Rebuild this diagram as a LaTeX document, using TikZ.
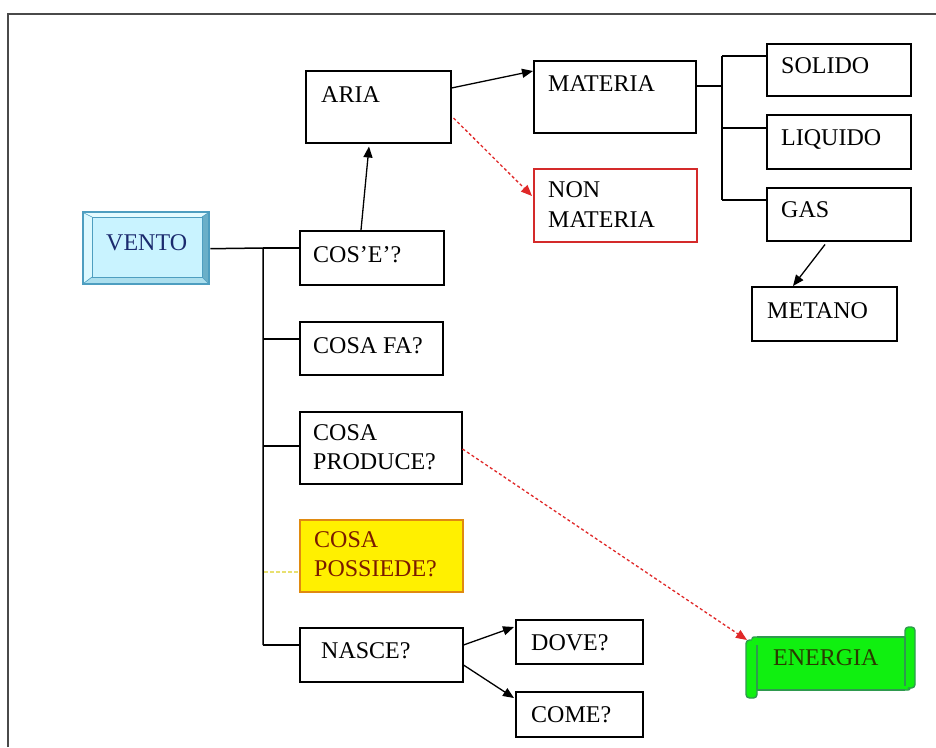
\documentclass[tikz,border=0pt]{standalone}
\usepackage{fontspec}
\setmainfont{Liberation Serif}
\usetikzlibrary{arrows.meta,calc}
\definecolor{redarr}{HTML}{E02828}
\definecolor{redbox}{HTML}{D42A2A}
\definecolor{ventofill}{HTML}{C9F3FF}
\definecolor{ventoedge}{HTML}{4E9EC0}
\definecolor{ventodark}{HTML}{6AAFC8}
\definecolor{ventolight}{HTML}{E4FBFF}
\definecolor{ventotext}{HTML}{1B2A6E}
\definecolor{yelfill}{HTML}{FFF000}
\definecolor{yeledge}{HTML}{E08A10}
\definecolor{yeltext}{HTML}{7A1A00}
\definecolor{yelline}{HTML}{E8E070}
\definecolor{grnfill}{HTML}{10F010}
\definecolor{grnedge}{HTML}{2E9A4E}
\definecolor{grntext}{HTML}{2A3A00}
\definecolor{frame}{HTML}{4A4A4A}
\begin{document}
\begin{tikzpicture}[x=1pt,y=-1pt,
  box/.style n args={2}{draw=black,line width=1.5pt,rectangle,inner sep=0pt,
    anchor=north west,minimum width=#1,minimum height=#2},
  txt/.style={anchor=base west,inner sep=0pt,font=\fontsize{24}{29}\selectfont},
  link/.style={draw=black,line width=1.5pt},
  arr/.style={draw=black,line width=1.3pt,-{Triangle[length=11pt,width=9pt]}},
  redarr/.style={draw=redarr,line width=1.3pt,dash pattern=on 3pt off 2.5pt,
    -{Triangle[length=11pt,width=9pt]}}]
\useasboundingbox (0,0) rectangle (936,747);
\fill[white] (0,0) rectangle (936,747);
% outer frame
\draw[frame,line width=2.2pt] (8,747) -- (8,14) -- (936,14);

% VENTO bevel box
\node[draw=ventoedge,fill=ventofill,line width=1.4pt,rectangle,inner sep=0pt,
  anchor=north west,minimum width=126,minimum height=72] (vento) at (83,212) {};
\fill[ventolight] (84,213) -- (208,213) -- (202,217) -- (92,217) -- cycle;
\fill[ventolight!70!ventofill] (84,213) -- (92,217) -- (92,277) -- (84,283) -- cycle;
\fill[ventodark] (208,213) -- (208,283) -- (202,277) -- (202,217) -- cycle;
\fill[ventofill!70!ventodark] (84,283) -- (92,277) -- (202,277) -- (208,283) -- cycle;
\draw[ventoedge,line width=0.8pt] (92,217) rectangle (202,277);
\draw[ventoedge,line width=0.6pt] (84,213) -- (92,217) (208,213) -- (202,217)
  (84,283) -- (92,277) (208,283) -- (202,277);
\draw[ventoedge,line width=1.4pt] (83,212) rectangle (209,284);
\node[txt,text=ventotext] (vento-t) at (106,250) {VENTO};

% left column boxes
\node[box={144}{54}] (cose) at (299,230) {};
\node[txt] (cose-t) at (313,262) {COS'E'?};
\node[box={143}{53}] (cosafa) at (299,321) {};
\node[txt] (cosafa-t) at (313,353) {COSA FA?};
\node[box={162}{72}] (produce) at (299,411) {};
\node[txt] (produce-t1) at (313,440) {COSA};
\node[txt] (produce-t2) at (313,469) {PRODUCE?};
\node[box={163}{72},draw=yeledge,fill=yelfill] (possiede) at (299,519) {};
\node[txt,text=yeltext] (possiede-t1) at (314,547) {COSA};
\node[txt,text=yeltext] (possiede-t2) at (314,576) {POSSIEDE?};
\node[box={163}{54}] (nasce) at (299,627) {};
\node[txt] (nasce-t) at (321,658) {NASCE?};

% upper boxes
\node[box={145}{72}] (aria) at (305,70) {};
\node[txt] (aria-t) at (321,102) {ARIA};
\node[box={162}{72}] (materia) at (533,60) {};
\node[txt] (materia-t) at (548,91) {MATERIA};
\node[box={163}{73},draw=redbox] (nonmat) at (533,168) {};
\node[txt] (nonmat-t1) at (548,197) {NON};
\node[txt] (nonmat-t2) at (548,227) {MATERIA};

\node[box={144}{52}] (solido) at (766,43) {};
\node[txt] (solido-t) at (781,73) {SOLIDO};
\node[box={144}{54}] (liquido) at (766,114) {};
\node[txt] (liquido-t) at (781,145) {LIQUIDO};
\node[box={144}{53}] (gas) at (766,187) {};
\node[txt] (gas-t) at (781,217) {GAS};
\node[box={145}{54}] (metano) at (751,286) {};
\node[txt] (metano-t) at (767,318) {METANO};

% lower right boxes
\node[box={127}{44}] (dove) at (515,619) {};
\node[txt] (dove-t) at (531,650) {DOVE?};
\node[box={127}{45}] (come) at (515,691) {};
\node[txt] (come-t) at (531,722) {COME?};

% ENERGIA scroll
\node[rectangle,inner sep=0pt,anchor=north west,minimum width=160,minimum height=53] (energia) at (751,637) {};
\filldraw[fill=grnfill,draw=grnedge,line width=1.4pt,rounded corners=2pt]
  (752,637) -- (910,637) -- (910,690) -- (752,690) -- cycle;
\filldraw[fill=grnfill,draw=grnedge,line width=1.4pt,rounded corners=3.5pt]
  (746,640) rectangle (757,698);
\filldraw[fill=grnfill,draw=grnedge,line width=1.4pt,rounded corners=3.5pt]
  (905,627) rectangle (915,688);
\fill[grnfill] (752,639) rectangle (908,688);
\draw[grnedge,line width=1.4pt] (757,637) -- (905,637);
\draw[grnedge,line width=1.4pt] (757,690) -- (905,690);
\draw[grnedge,line width=1.2pt] (757,645) -- (757,690);
\draw[grnedge,line width=1.2pt] (905,637) -- (905,686);
\node[txt,text=grntext] (energia-t) at (773,665) {ENERGIA};

% main spine
\coordinate (sp0) at (263,248);
\coordinate (sp1) at (263,645);
\draw[link] (vento.east) -- (sp0) -- (sp1);
\draw[link] (263,248) -- ($(cose.north west)+(0,18)$);
\draw[link] (263,339) -- ($(cosafa.north west)+(0,18)$);
\draw[link] (263,446) -- ($(produce.north west)+(0,35)$);
\draw[draw=yelline,line width=1.3pt,dash pattern=on 4pt off 2pt] (264,572) -- ($(possiede.north west)+(0,53)$);
\draw[link] (sp1) -- ($(nasce.north west)+(0,18)$);

% materia spine
\coordinate (ms0) at (722,86);
\draw[link] ($(materia.north east)+(0,26)$) -- (ms0);
\draw[link] (722,56) -- (722,200);
\draw[link] (722,56) -- ($(solido.north west)+(0,13)$);
\draw[link] (722,128) -- ($(liquido.north west)+(0,14)$);
\draw[link] (722,200) -- ($(gas.north west)+(0,13)$);

% arrows
\draw[arr] ($(cose.north west)+(62,0)$) -- ($(aria.south west)+(64,3)$);
\draw[arr] ($(aria.north east)+(0,18)$) -- ($(materia.north west)+(0,11)$);
\draw[redarr] ($(aria.north east)+(2,48)$) -- ($(nonmat.north west)+(-1,28)$);
\draw[arr] ($(gas.south west)+(59,3)$) -- ($(metano.north west)+(42,0)$);
\draw[arr] ($(nasce.north east)+(0,18)$) -- ($(dove.north west)+(-1,8)$);
\draw[arr] ($(nasce.north east)+(0,38)$) -- ($(come.north west)+(-1,7)$);
\draw[redarr] ($(produce.north east)+(0,38)$) -- ($(energia.north west)+(-4,3)$);
\end{tikzpicture}
\end{document}
